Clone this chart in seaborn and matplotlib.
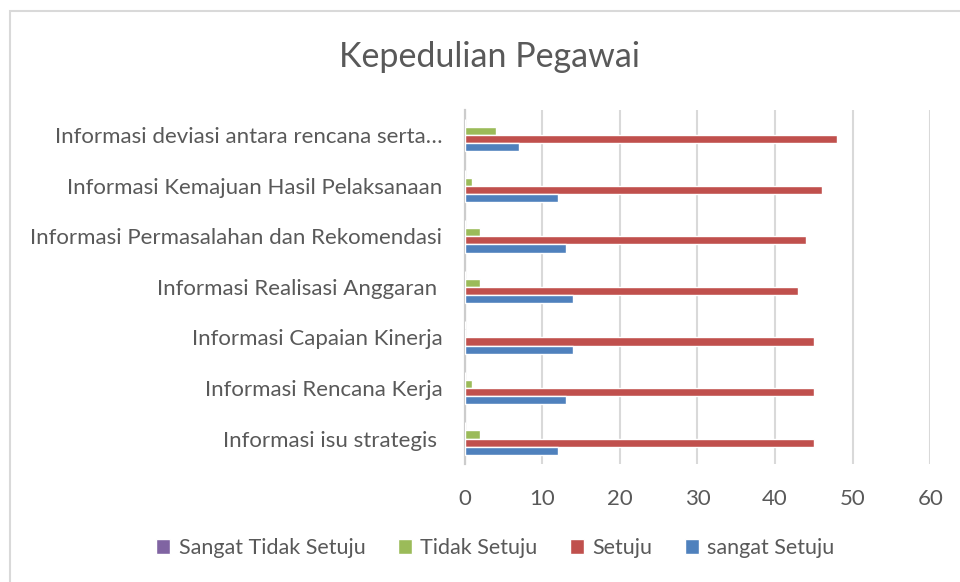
import numpy as np
import pandas as pd
import matplotlib
matplotlib.use('Agg')
import matplotlib.pyplot as plt
import seaborn as sns
from matplotlib.patches import Rectangle

sns.set_style('white')
plt.rcParams['font.family'] = ['Lato', 'DejaVu Sans']

categories = [
    'Informasi deviasi antara rencana serta\u2026',
    'Informasi Kemajuan Hasil Pelaksanaan',
    'Informasi Permasalahan dan Rekomendasi',
    'Informasi Realisasi Anggaran ',
    'Informasi Capaian Kinerja',
    'Informasi Rencana Kerja',
    'Informasi isu strategis ',
]
series_names = ['Sangat Tidak Setuju', 'Tidak Setuju', 'Setuju', 'sangat Setuju']
sangat_tidak_setuju = [0, 0, 0, 0, 0, 0, 0]
tidak_setuju = [4, 1, 2, 2, 0, 1, 2]
setuju = [48, 46, 44, 43, 45, 45, 45]
sangat_setuju = [7, 12, 13, 14, 14, 13, 12]
colors = ['#8064A2', '#9BBB59', '#C0504D', '#4F81BD']
x_ticks = [0, 10, 20, 30, 40, 50, 60]

rows = []
for name, vals in zip(series_names, [sangat_tidak_setuju, tidak_setuju, setuju, sangat_setuju]):
    for cat, v in zip(categories, vals):
        rows.append({'Kategori': cat, 'Seri': name, 'Nilai': v})
df = pd.DataFrame(rows)

text_color = '#595959'
fig = plt.figure(figsize=(9.6, 5.82), dpi=100)
ax = fig.add_axes([0.484, 0.203, 0.485, 0.608])

sns.barplot(data=df, y='Kategori', x='Nilai', hue='Seri', order=categories,
            hue_order=series_names, palette=colors, orient='h', width=0.64,
            saturation=1, ax=ax, zorder=3)

ax.set_xlim(0, 60)
ax.set_xticks(x_ticks)
ax.set_xlabel('')
ax.set_ylabel('')
ax.grid(axis='x', color='#D9D9D9', linewidth=1.5, zorder=0)
for s in ['top', 'right', 'bottom']:
    ax.spines[s].set_visible(False)
ax.spines['left'].set_color('#CCCCCC')
ax.spines['left'].set_linewidth(1.6)
ax.tick_params(axis='y', length=0, pad=16, labelsize=16, labelcolor=text_color)
ax.tick_params(axis='x', length=0, pad=18, labelsize=16, labelcolor=text_color)

fig.text(0.51, 0.902, 'Kepedulian Pegawai', ha='center', va='center',
         fontsize=24.5, color=text_color)

sns.move_legend(ax, 'center', bbox_to_anchor=(0.516, 0.058), bbox_transform=fig.transFigure,
                ncol=4, frameon=False, title=None, fontsize=15.5, handlelength=0.65,
                handleheight=0.65, handletextpad=0.4, columnspacing=1.5, labelcolor=text_color)

fig.patches.append(Rectangle((10 / 960, -0.1), 1.2, 0.1 + (582 - 11) / 582, transform=fig.transFigure,
                             fill=False, edgecolor='#D9D9D9', linewidth=1.5))

fig.savefig('out.png', dpi=100)
